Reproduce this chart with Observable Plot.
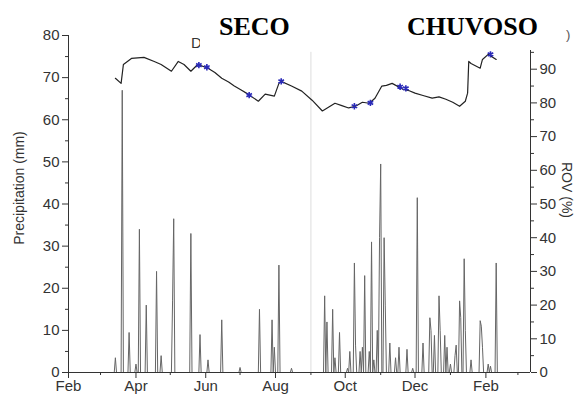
<!DOCTYPE html>
<html>
<head>
<meta charset="utf-8">
<script src="https://cdn.jsdelivr.net/npm/d3@7"></script>
<script src="https://cdn.jsdelivr.net/npm/@observablehq/plot@0.6"></script>
<style>
  html, body { margin: 0; padding: 0; background: #fff; }
  #chart { width: 581px; height: 400px; position: relative; }
</style>
</head>
<body>
<div id="chart"></div>
<script>
// ---------- data ----------
const rainDates = [
  "2013-03-14","2013-03-20","2013-03-26","2013-04-01","2013-04-04","2013-04-10",
  "2013-04-19","2013-04-23","2013-05-03","2013-05-04","2013-05-19","2013-05-27",
  "2013-06-03","2013-06-15","2013-07-01","2013-07-18","2013-07-29","2013-07-31",
  "2013-08-04","2013-08-15",
  "2013-09-13","2013-09-15","2013-09-20","2013-09-22","2013-09-26","2013-10-03",
  "2013-10-05","2013-10-09","2013-10-10","2013-10-14","2013-10-16","2013-10-18",
  "2013-10-22","2013-10-24","2013-10-26","2013-10-29","2013-10-31","2013-11-01",
  "2013-11-04","2013-11-05","2013-11-09","2013-11-14","2013-11-17","2013-11-24",
  "2013-11-29","2013-12-03","2013-12-08","2013-12-14","2013-12-15","2013-12-18",
  "2013-12-22","2013-12-23","2013-12-27","2013-12-29","2014-01-01","2014-01-05",
  "2014-01-06","2014-01-09","2014-01-10","2014-01-13","2014-01-14","2014-01-19",
  "2014-01-27","2014-01-28","2014-01-29","2014-02-03","2014-02-05","2014-02-10"
];
const rainValues = [
  3.5, 67, 9.5, 2, 34, 16,
  24, 4, 17, 36.5, 33, 9,
  3, 12.5, 1.2, 15, 12.5, 6,
  25.5, 1,
  18.2, 12, 15, 3.5, 9.5, 1,
  5, 26, 6.5, 5, 6, 23,
  5, 31, 3, 10, 32, 49.5,
  32, 16, 7, 3.5, 6, 5.5,
  1, 41.5, 7, 13, 10, 8.8,
  18.2, 10, 8.8, 6, 2, 4,
  6.5, 17, 13, 27, 10, 3,
  12.3, 11, 6, 2, 1.5, 26
];

const rovDates = [
  "2013-03-14","2013-03-19","2013-03-21","2013-03-28","2013-04-08","2013-04-17",
  "2013-04-23","2013-05-02","2013-05-08","2013-05-13","2013-05-19","2013-05-25",
  "2013-06-03","2013-06-09","2013-06-15","2013-06-21","2013-06-26","2013-07-02",
  "2013-07-08","2013-07-17","2013-07-23",
  "2013-07-31","2013-08-04","2013-08-06","2013-08-15","2013-08-24","2013-09-02",
  "2013-09-11","2013-09-22","2013-09-28","2013-10-04","2013-10-10","2013-10-16",
  "2013-10-22","2013-10-27","2013-11-02","2013-11-06",
  "2013-11-11","2013-11-20","2013-11-26","2013-12-01","2013-12-08","2013-12-16",
  "2013-12-22","2013-12-28","2014-01-03","2014-01-09",
  "2014-01-14","2014-01-16","2014-01-17","2014-01-19","2014-01-27","2014-01-29",
  "2014-02-03","2014-02-10"
];
const rovValues = [
  87.3, 85.8, 91.4, 93.2, 93.5, 92.3,
  91.4, 89.4, 92.3, 91.4, 89.4, 91.4,
  90.3, 89.0, 87.3, 86.2, 85.0, 83.8,
  82.6, 80.5, 82.6,
  82.0, 85.8, 86.4, 85.0, 83.5, 80.8,
  77.6, 79.9, 79.2, 78.5, 79.0, 80.2,
  79.9, 81.4, 85.0, 85.2,
  85.8, 84.1, 83.6, 82.9, 82.2, 81.4,
  81.8, 81.1, 80.2, 79.0,
  80.5, 82.9, 92.3, 91.7, 90.3, 92.9,
  94.4, 92.9
];

const markerDates = ["2013-05-26","2013-06-02","2013-07-09","2013-08-06","2013-10-09","2013-10-23","2013-11-18","2013-11-23","2014-02-05"];
const markerValues = [91.2, 90.6, 82.3, 86.4, 79.0, 80.0, 84.8, 84.3, 94.4];

const leftTicks = [0, 10, 20, 30, 40, 50, 60, 70, 80];
const rightTicks = [0, 10, 20, 30, 40, 50, 60, 70, 80, 90];
const monthTicks = ["2013-02-01","2013-04-01","2013-06-01","2013-08-01","2013-10-01","2013-12-01","2014-02-01"];
const monthMinor = ["2013-03-01","2013-05-01","2013-07-01","2013-09-01","2013-11-01","2014-01-01","2014-03-01"];
const seasonSplit = "2013-09-01";

// ---------- build tables ----------
const parse = d3.utcParse("%Y-%m-%d");
const xStart = parse("2013-02-01"), xEnd = parse("2014-03-12");
const rainMap = new Map(rainDates.map((d, i) => [d, rainValues[i]]));
const rain = d3.utcDay.range(parse("2013-03-10"), parse("2014-02-20")).map(d => ({
  date: d, p: rainMap.get(d3.utcFormat("%Y-%m-%d")(d)) ?? 0
}));
const rovK = 0.8; // ROV 0-100 % shares the 0-80 mm range
const rov = rovDates.map((d, i) => ({date: parse(d), v: rovValues[i]}));
const markers = markerDates.map((d, i) => ({date: parse(d), v: markerValues[i]}));

const axisColor = "#333";
const plot = Plot.plot({
  width: 581,
  height: 400,
  marginLeft: 68,
  marginRight: 51,
  marginTop: 35,
  marginBottom: 28,
  style: {fontFamily: "Liberation Sans, Arial, sans-serif", fontSize: "15px", color: axisColor, background: "#fff"},
  x: {type: "utc", domain: [xStart, xEnd]},
  y: {domain: [0, 80]},
  marks: [
    Plot.ruleX([parse(seasonSplit)], {stroke: "#ddd", strokeWidth: 1, y1: 0, y2: 76}),
    Plot.lineY(rain, {x: "date", y: "p", stroke: "#666", strokeWidth: 1}),
    Plot.lineY(rov, {x: "date", y: d => d.v * rovK, stroke: "#222", strokeWidth: 1.2}),
    Plot.dot(markers, {x: "date", y: d => d.v * rovK, symbol: "asterisk", r: 3, stroke: "#2a2ab8", strokeWidth: 1.6}),
    // frame lines
    Plot.ruleX([xStart], {stroke: axisColor, strokeWidth: 1}),
    Plot.ruleX([xEnd], {stroke: axisColor, strokeWidth: 1}),
    Plot.ruleY([0], {stroke: axisColor, strokeWidth: 1.2}),
    // left axis
    Plot.axisY(leftTicks, {anchor: "left", tickSize: 6, tickPadding: 3, label: null, stroke: axisColor}),
    Plot.axisY(leftTicks.slice(0, -1).map(v => v + 5), {anchor: "left", tickSize: 3, tickFormat: () => "", label: null, stroke: axisColor}),
    // right axis (ROV %)
    Plot.axisY(rightTicks.map(v => v * rovK), {anchor: "right", tickSize: 6, tickPadding: 3, tickFormat: d => Math.round(d / rovK), label: null, stroke: axisColor}),
    Plot.axisY(rightTicks.map(v => (v + 5) * rovK), {anchor: "right", tickSize: 3, tickFormat: () => "", label: null, stroke: axisColor}),
    // bottom axis
    Plot.axisX(monthTicks.map(parse), {anchor: "bottom", tickSize: 6, tickPadding: 2, tickFormat: d3.utcFormat("%b"), label: null, stroke: axisColor}),
    Plot.axisX(monthMinor.map(parse), {anchor: "bottom", tickSize: 3, tickFormat: () => "", label: null, stroke: axisColor})
  ]
});
document.getElementById("chart").appendChild(plot);

// ---------- annotations ----------
const svg = d3.select(plot);
svg.append("text").attr("transform", "translate(24,188) rotate(-90)")
  .attr("text-anchor", "middle").attr("fill", axisColor)
  .style("font-size", "14px").text("Precipitation (mm)");
svg.append("text").attr("transform", "translate(562,190) rotate(90)")
  .attr("text-anchor", "middle").attr("fill", axisColor)
  .style("font-size", "14px").text("ROV (%)");
svg.append("text").attr("x", 191).attr("y", 48).attr("text-anchor", "start").attr("fill", axisColor)
  .style("font-size", "15px").text("D");
svg.append("rect").attr("x", 200).attr("y", 0).attr("width", 100).attr("height", 50).attr("fill", "#fff");
svg.append("rect").attr("x", 385).attr("y", 0).attr("width", 180).attr("height", 50).attr("fill", "#fff");
svg.append("text").attr("x", 566).attr("y", 39).attr("text-anchor", "start").attr("fill", "#555")
  .style("font-size", "13px").text(")");
const boxFont = "Liberation Serif, Times New Roman, serif";
svg.append("text").attr("x", 219).attr("y", 35).attr("text-anchor", "start").attr("fill", "#000")
  .style("font-family", boxFont).style("font-weight", "bold").style("font-size", "26px").text("SECO");
svg.append("text").attr("x", 407).attr("y", 35).attr("text-anchor", "start").attr("fill", "#000")
  .style("font-family", boxFont).style("font-weight", "bold").style("font-size", "26px").text("CHUVOSO");
</script>
</body>
</html>
